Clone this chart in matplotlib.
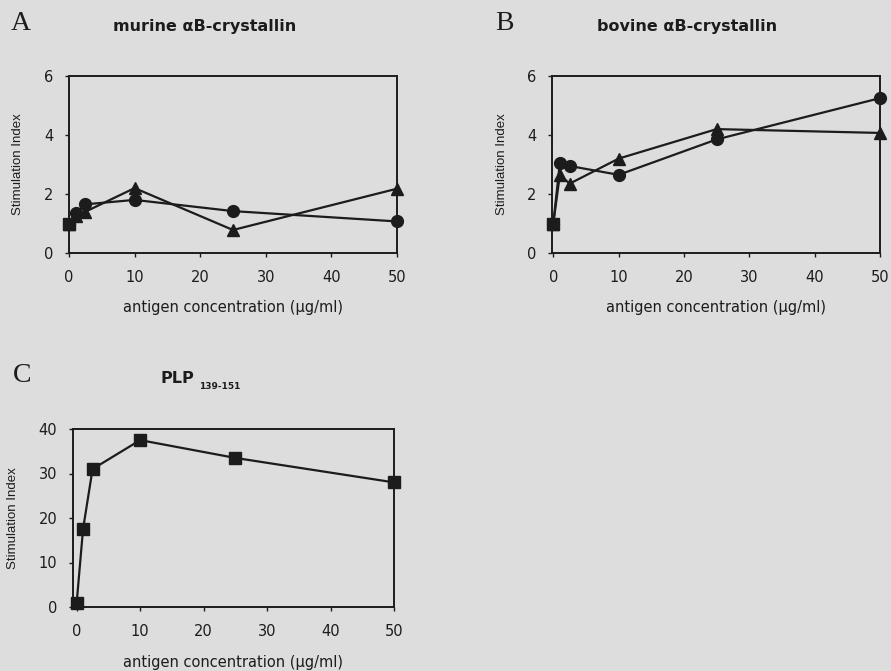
import numpy as np
import matplotlib
matplotlib.use("Agg")
import matplotlib.pyplot as plt

# antigen doses (ug/ml)
conc = [0, 1, 2.5, 10, 25, 50]

# murine aB-crystallin
murine_circ = [1.0, 1.35, 1.65, 1.8, 1.42, 1.07]
murine_tri = [1.0, 1.27, 1.4, 2.2, 0.78, 2.18]

# bovine aB-crystallin
bovine_circ = [1.0, 3.05, 2.95, 2.65, 3.85, 5.25]
bovine_tri = [1.0, 2.65, 2.35, 3.2, 4.2, 4.07]

# PLP 139-151
plp_sq = [1.0, 17.5, 31.0, 37.5, 33.5, 28.0]

bg = "#dcdddc"
ink = "#1c1c1c"
W, H = 891, 671

fig = plt.figure(figsize=(W / 100, H / 100), dpi=100)
fig.patch.set_facecolor(bg)


def px_axes(left, right, top, bottom):
    return fig.add_axes([left / W, 1 - bottom / H, (right - left) / W, (bottom - top) / H])


def style(ax, xlim, ylim, yticks, ylab_x, xlab_y):
    ax.set_facecolor(bg)
    ax.set_xlim(*xlim)
    ax.set_ylim(*ylim)
    ax.set_xticks(range(0, 51, 10))
    ax.set_yticks(yticks)
    for s in ax.spines.values():
        s.set_linewidth(1.4)
        s.set_color(ink)
    ax.tick_params(direction="out", length=3, width=1, colors=ink, labelsize=10.5, pad=8)
    ax.tick_params(axis="x", pad=9)
    ax.set_ylabel("Stimulation Index", fontsize=9.5, family="Liberation Sans", color=ink)
    ax.yaxis.set_label_coords(ylab_x, 0.5)
    ax.set_xlabel("antigen concentration (\u03bcg/ml)", fontsize=10.5, color=ink)
    ax.xaxis.set_label_coords(0.5, xlab_y)


def series(ax, y, marker, ms):
    ax.plot(conc, y, color=ink, lw=1.6, marker=marker, ms=ms, mfc=ink, mec=ink, clip_on=False, zorder=3)


# panel A
axA = px_axes(69, 397, 76, 253)
style(axA, (0, 50), (0, 6), [0, 2, 4, 6], -0.137, -0.265)
series(axA, murine_circ, "o", 8.5)
series(axA, murine_tri, "^", 8.5)
axA.plot(conc[:1], murine_circ[:1], "s", color=ink, ms=8, clip_on=False, zorder=4)

# panel B
axB = px_axes(552, 880, 76, 253)
style(axB, (-0.2, 50), (0, 6), [0, 2, 4, 6], -0.134, -0.265)
series(axB, bovine_circ, "o", 8.5)
series(axB, bovine_tri, "^", 8.5)
axB.plot(conc[:1], bovine_circ[:1], "s", color=ink, ms=8, clip_on=False, zorder=4)

# panel C
axC = px_axes(72.7, 394, 429, 607)
style(axC, (-0.63, 50), (0, 40), [0, 10, 20, 30, 40], -0.167, -0.27)
series(axC, plp_sq, "s", 8)

# panel letters
for letter, x, y in [("A", 21, 23), ("B", 504, 23), ("C", 22, 376)]:
    fig.text(x / W, 1 - y / H, letter, fontsize=20, family="Liberation Serif",
             ha="center", va="center", color=ink)

# panel titles
fig.text(205 / W, 1 - 26 / H, "murine \u03b1B-crystallin", fontsize=11.5, weight="bold",
         ha="center", va="center", color=ink)
fig.text(687 / W, 1 - 26 / H, "bovine \u03b1B-crystallin", fontsize=11.5, weight="bold",
         ha="center", va="center", color=ink)
fig.text(160 / W, 1 - 383 / H, "PLP", fontsize=11.5, weight="bold",
         ha="left", va="baseline", color=ink)
fig.text(199 / W, 1 - 389 / H, "139-151", fontsize=6.5, weight="bold",
         ha="left", va="baseline", color=ink)

fig.savefig("out.png", dpi=100, facecolor=bg)
